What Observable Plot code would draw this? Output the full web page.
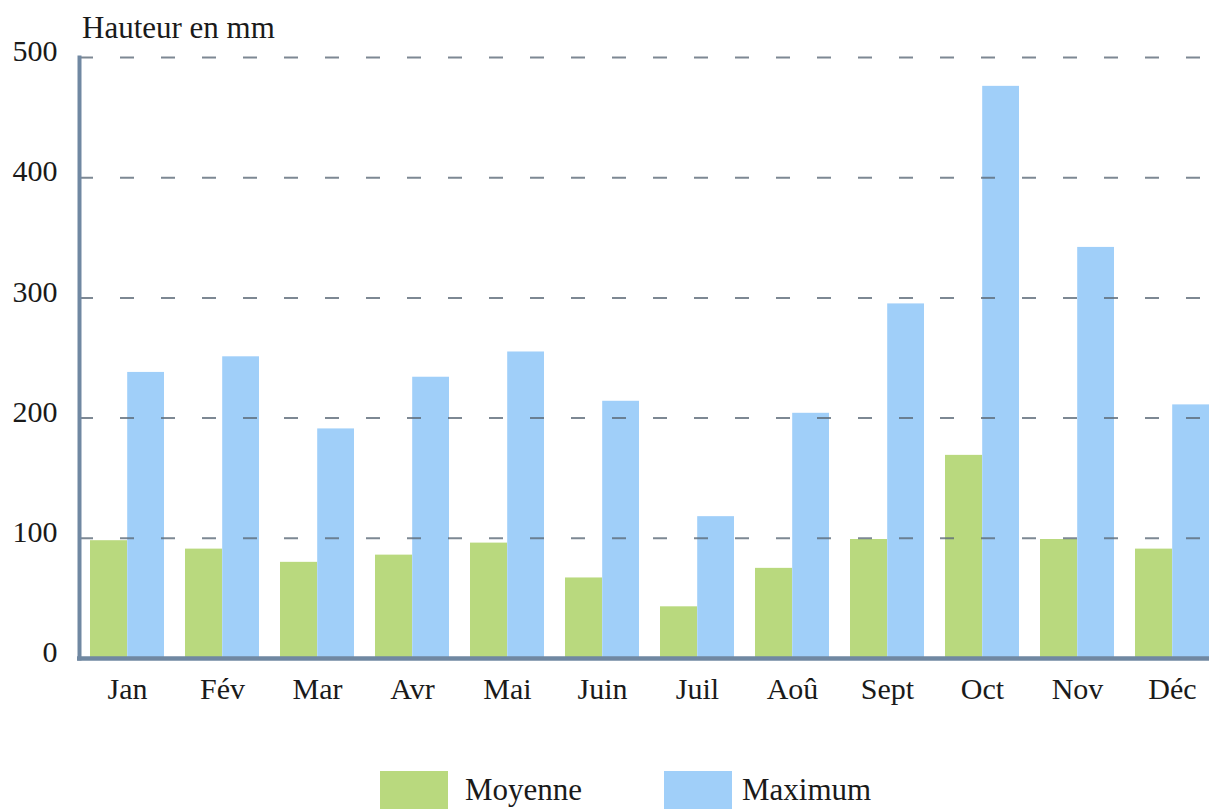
<!DOCTYPE html>
<html><head><meta charset="utf-8">
<script src="https://cdn.jsdelivr.net/npm/d3@7"></script>
<script src="https://cdn.jsdelivr.net/npm/@observablehq/plot@0.6"></script>
<style>
html,body{margin:0;padding:0;background:#fff;}
#wrap{position:relative;width:1209px;height:809px;overflow:hidden;font-family:'Liberation Serif',Tinos,serif;color:#1a1a1a;}
#wrap svg{position:absolute;left:0;top:0;}
#wrap svg text{font-family:'Liberation Serif',Tinos,serif;}
.lbl{position:absolute;font-family:'Liberation Serif',Tinos,serif;font-size:31px;line-height:34px;white-space:nowrap;}
.sw{position:absolute;}
</style></head><body>
<div id="wrap"></div>
<script>
const months = ["Jan","Fév","Mar","Avr","Mai","Juin","Juil","Aoû","Sept","Oct","Nov","Déc"];
const moyenne = [98, 91, 80, 86, 96, 67, 43, 75, 99, 169, 99, 91];
const maximum = [238, 251, 191, 234, 255, 214, 118, 204, 295, 476, 342, 211];
const yTicks = [0, 100, 200, 300, 400, 500];
const seriesNames = ["Moyenne", "Maximum"];
const seriesColors = ["#b9d97e", "#a0cff9"];
const yTitle = "Hauteur en mm";

const rows = months.map((m, i) => ({month: m, moyenne: moyenne[i], maximum: maximum[i]}));
const axisColor = "#7088a2";

const chart = Plot.plot({
  width: 1209, height: 740,
  marginTop: 57, marginBottom: 82, marginLeft: 79, marginRight: 0,
  style: {fontFamily: "'Liberation Serif', Tinos, serif", fontSize: "30px", color: "#1a1a1a", background: "transparent", overflow: "hidden"},
  x: {domain: months, range: [79, 1220], paddingInner: 0.22, paddingOuter: 0.11, label: null},
  y: {domain: [0, 500], label: null},
  marks: [
    Plot.barY(rows, {x: "month", y: "moyenne", fill: seriesColors[0], insetRight: 37}),
    Plot.barY(rows, {x: "month", y: "maximum", fill: seriesColors[1], insetLeft: 37.2}),
    Plot.ruleY(yTicks.filter(d => d > 0), {stroke: "#5d6a78", strokeOpacity: 0.8, strokeWidth: 2, strokeDasharray: "14,27"}),
    Plot.ruleY([0], {stroke: axisColor, strokeWidth: 4.5, insetLeft: -2}),
    Plot.frame({anchor: "left", stroke: axisColor, strokeWidth: 4}),
    Plot.axisY({ticks: yTicks, tickSize: 0, tickPadding: 22, dy: -6, label: null, fontSize: 30, tickFormat: d => String(d)}),
    Plot.axisX({tickSize: 0, tickPadding: 19, label: null, fontSize: 30})
  ]
});

const wrap = document.getElementById("wrap");
wrap.appendChild(chart);

const title = document.createElement("div");
title.className = "lbl";
title.style.left = "82px";
title.style.top = "11px";
title.textContent = yTitle;
wrap.appendChild(title);

const legendPos = [{box: 380, text: 465}, {box: 664, text: 742}];
seriesNames.forEach((name, i) => {
  const sw = document.createElement("div");
  sw.className = "sw";
  sw.style.left = legendPos[i].box + "px";
  sw.style.top = "771px";
  sw.style.width = "68px";
  sw.style.height = "40px";
  sw.style.background = seriesColors[i];
  wrap.appendChild(sw);
  const t = document.createElement("div");
  t.className = "lbl";
  t.style.left = legendPos[i].text + "px";
  t.style.top = "773px";
  t.textContent = name;
  wrap.appendChild(t);
});
</script>
</body></html>
